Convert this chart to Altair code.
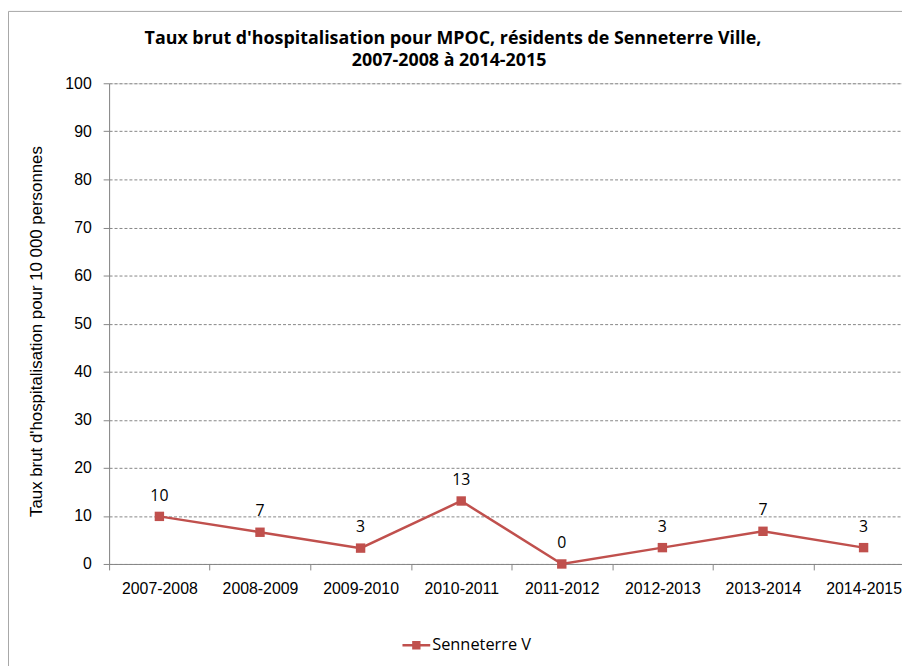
import altair as alt
import pandas as pd

# ---- data ----
periods = ["2007-2008", "2008-2009", "2009-2010", "2010-2011",
           "2011-2012", "2012-2013", "2013-2014", "2014-2015"]
rates = [9.9, 6.6, 3.3, 13.1, 0.0, 3.4, 6.8, 3.4]
series_name = "Senneterre V"
y_ticks = list(range(0, 101, 10))
title_lines = ["Taux brut d'hospitalisation pour MPOC, résidents de Senneterre Ville,",
               "2007-2008 à 2014-2015"]
y_title = "Taux brut d'hospitalisation pour 10 000 personnes"

df = pd.DataFrame({
    "period": periods,
    "rate": rates,
    "pos": [i + 0.5 for i in range(len(periods))],
    "series": [series_name] * len(periods),
})

RED = "#C0504D"
GRAY = "#868686"
FONT = "Open Sans"
BAND = 101.5
PLOT_W = 800
PLOT_H = 485

label_array = "[" + ",".join("'" + p + "'" for p in periods) + "]"
x_values = [i * 0.5 for i in range(2 * len(periods))]

x_enc = alt.X(
    "pos:Q",
    scale=alt.Scale(domain=[0, PLOT_W / BAND], nice=False, zero=False),
    axis=alt.Axis(
        values=x_values, title=None, grid=False,
        domainColor=GRAY, tickColor=GRAY, tickSize=6,
        tickOpacity={"condition": {"test": "datum.value % 1 == 0", "value": 1}, "value": 0},
        labelExpr="datum.value % 1 != 0 ? " + label_array + "[floor(datum.value)] : ''",
        labelFontSize=16, labelPadding=11, labelOverlap=False,
        labelBound=False, labelFlush=False,
    ),
)
y_enc = alt.Y(
    "rate:Q",
    scale=alt.Scale(domain=[0, 100], nice=False),
    axis=alt.Axis(
        values=y_ticks, title=y_title, grid=True, gridColor=GRAY, gridDash=[3, 2],
        domainColor=GRAY, tickColor=GRAY, tickSize=6,
        labelFontSize=16, labelPadding=12,
        titleFontSize=17, titleFontWeight="normal",
        titleX=-73, titleY=250, titleAngle=270, titleAlign="center",
        titleBaseline="middle",
    ),
)

base = alt.Chart(df)

line = base.mark_line(color=RED, strokeWidth=2.5).encode(x=x_enc, y=y_enc)

points = base.mark_point(shape="square", filled=True, size=90, opacity=1).encode(
    x=x_enc, y=y_enc,
    color=alt.Color(
        "series:N",
        scale=alt.Scale(range=[RED]),
        legend=alt.Legend(
            title=None, orient="none", legendX=296, legendY=553,
            symbolType="M-1,-0.09H1V0.09H-1Z M-0.3,-0.3H0.3V0.3H-0.3Z",
            symbolSize=784, symbolStrokeWidth=0,
            labelFontSize=16.5, labelFont=FONT, labelColor="black",
            labelOffset=2, padding=0,
        ),
    ),
)

labels = base.mark_text(dy=-16, baseline="alphabetic", fontSize=16, font=FONT, color="black").encode(
    x=x_enc, y=y_enc, text=alt.Text("rate:Q", format=".0f")
)

one = pd.DataFrame({"b": [0]})

border = alt.Chart(one).mark_rect(
    fill=None, stroke="#a6a6a6", strokeWidth=1
).encode(
    x=alt.value(-101.5), x2=alt.value(900), y=alt.value(-72.5), y2=alt.value(700)
)

title1 = alt.Chart(one).mark_text(
    font=FONT, fontSize=18, fontWeight="bold", color="black",
    align="center", baseline="alphabetic",
).encode(x=alt.value(347), y=alt.value(-40), text=alt.value(title_lines[0]))

title2 = alt.Chart(one).mark_text(
    font=FONT, fontSize=18, fontWeight="bold", color="black",
    align="center", baseline="alphabetic",
).encode(x=alt.value(343), y=alt.value(-17), text=alt.value(title_lines[1]))

chart = alt.layer(border, title1, title2, line, points, labels).properties(
    width=PLOT_W,
    height=PLOT_H,
    autosize=alt.AutoSizeParams(type="none"),
    padding={"left": 102, "top": 73, "right": 0, "bottom": 100},
).configure_view(stroke=None).configure_axis(
    labelFont=FONT, titleFont=FONT, labelColor="black", titleColor="black"
).configure(background="white")

chart.save("out.html", embed_options={"renderer": "svg", "actions": False})
